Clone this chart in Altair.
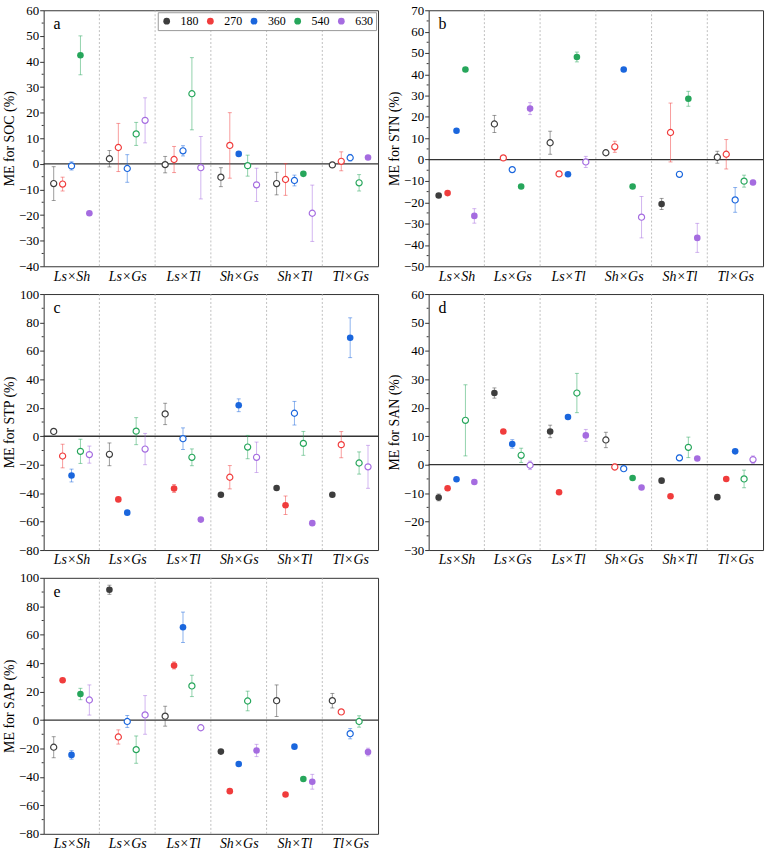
import altair as alt
import pandas as pd

categories = ["Ls×Sh", "Ls×Gs", "Ls×Tl", "Sh×Gs", "Sh×Tl", "Tl×Gs"]
series = ["180", "270", "360", "540", "630"]
colors = ["#3d3d3d", "#f03c3c", "#1a66dd", "#26a65b", "#a56ce0"]

# Panel a: SOC  (rows = categories, columns = series)
soc_val = [[-7.7, -7.9, -0.8, 42.4, -19.3], [2.0, 6.4, -1.8, 11.7, 17.0], [-0.3, 1.7, 5.1, 27.4, -1.5],
           [-5.2, 7.2, 3.9, -0.7, -8.2], [-7.7, -6.1, -6.5, -3.9, -19.3], [-0.4, 1.0, 2.4, -7.4, 2.5]]
soc_err = [[6.6, 2.7, 1.6, 7.6, 0], [3.2, 9.4, 5.4, 4.5, 8.8], [3.2, 5.1, 2.0, 14.1, 12.2],
           [3.7, 12.8, 0, 4.1, 6.5], [4.4, 6.2, 2.1, 0, 11.0], [1.0, 3.7, 1.3, 3.2, 0]]
soc_fill = [[0, 0, 0, 1, 1], [0, 0, 0, 0, 0], [0, 0, 0, 0, 0], [0, 0, 1, 0, 0], [0, 0, 0, 1, 0], [0, 0, 0, 0, 1]]

# Panel b: STN
stn_val = [[-16.8, -15.7, 13.5, 42.2, -26.4], [16.7, 0.8, -4.7, -12.6, 23.9], [7.9, -6.7, -6.9, 48.1, -1.1],
           [3.2, 6.0, 42.2, -12.6, -27.0], [-20.8, 12.7, -6.9, 28.5, -36.7], [1.1, 2.5, -18.9, -10.1, -10.7]]
stn_err = [[0, 0, 0, 0, 3.4], [4.0, 1.0, 1.0, 0, 2.8], [5.4, 1.0, 0, 2.3, 2.6],
           [1.0, 2.6, 0, 0, 9.7], [2.6, 13.8, 1.0, 3.5, 6.8], [2.8, 6.9, 5.8, 2.8, 1.0]]
stn_fill = [[1, 1, 1, 1, 1], [0, 0, 0, 1, 1], [0, 0, 1, 1, 0], [0, 0, 1, 1, 0], [1, 0, 0, 1, 1], [0, 0, 0, 0, 1]]

# Panel c: STP
stp_val = [[3.4, -13.9, -27.6, -10.6, -12.9], [-12.7, -44.4, -53.7, 3.6, -9.0], [15.7, -36.7, -1.7, -14.8, -58.6],
           [-41.1, -28.8, 21.8, -7.6, -14.8], [-36.4, -48.5, 16.2, -5.0, -61.1], [-41.1, -5.9, 69.3, -18.8, -21.5]]
stp_err = [[1.5, 8.3, 4.5, 8.5, 6.0], [8.0, 0, 0, 9.5, 11.0], [7.5, 2.8, 7.6, 5.9, 0],
           [0, 8.2, 4.5, 8.2, 10.7], [0, 6.5, 8.3, 8.4, 1.5], [0, 9.2, 14.0, 7.8, 15.1]]
stp_fill = [[0, 0, 1, 0, 0], [0, 1, 1, 0, 0], [0, 1, 0, 0, 1], [1, 0, 1, 0, 0], [1, 1, 0, 0, 1], [1, 0, 1, 0, 0]]

# Panel d: SAN
san_val = [[-11.5, -8.3, -5.1, 15.6, -6.1], [25.2, 11.7, 7.3, 3.3, -0.2], [11.7, -9.7, 16.8, 25.2, 10.3],
           [8.7, -0.8, -1.4, -4.7, -8.0], [-5.6, -11.1, 2.4, 6.1, 2.2], [-11.4, -5.0, 4.7, -5.0, 1.8]]
san_err = [[1.2, 0, 0, 12.5, 0], [1.8, 0, 1.5, 2.5, 1.5], [2.2, 0, 0, 6.9, 2.1],
           [2.7, 1.0, 0.8, 0, 0], [0, 0, 1.0, 3.6, 0], [0, 0, 0, 3.1, 1.3]]
san_fill = [[1, 1, 1, 0, 1], [1, 1, 1, 0, 0], [1, 1, 1, 0, 1], [0, 0, 0, 1, 1], [1, 1, 0, 0, 1], [1, 1, 1, 0, 0]]

# Panel e: SAP
sap_val = [[-19.1, 28.0, -24.5, 18.3, 14.1], [91.6, -11.9, -1.0, -20.8, 3.6], [2.7, 38.4, 65.2, 24.0, -5.4],
           [-22.2, -50.0, -30.9, 13.4, -21.4], [13.6, -52.4, -18.7, -41.5, -43.4], [13.6, 5.7, -9.6, -1.0, -22.5]]
sap_err = [[7.4, 0, 3.0, 4.0, 10.6], [3.2, 5.0, 4.2, 9.6, 13.6], [7.0, 2.5, 10.7, 7.5, 0],
           [0, 0, 0, 6.9, 4.3], [11.1, 0, 0, 0, 5.2], [5.1, 0, 3.6, 4.0, 2.7]]
sap_fill = [[0, 1, 1, 1, 0], [1, 0, 0, 0, 0], [0, 1, 1, 0, 0], [1, 1, 1, 0, 1], [0, 1, 1, 1, 1], [0, 0, 0, 0, 1]]

panels = [
    ("a", "ME for SOC (%)", soc_val, soc_err, soc_fill, [-40, 60], 10),
    ("b", "ME for STN (%)", stn_val, stn_err, stn_fill, [-50, 70], 10),
    ("c", "ME for STP (%)", stp_val, stp_err, stp_fill, [-80, 100], 20),
    ("d", "ME for SAN (%)", san_val, san_err, san_fill, [-30, 60], 10),
    ("e", "ME for SAP (%)", sap_val, sap_err, sap_fill, [-80, 100], 20),
]

FONT = "Liberation Serif"
OFF = 0.16
W, H = 337, 258

label_expr = "[" + ",".join("'" + c + "'" for c in categories) + "][datum.value]"


def make_panel(letter, title, vals, errs, fills, dom, step, show_legend):
    rows = []
    for ci in range(len(categories)):
        for si, s in enumerate(series):
            rows.append(dict(ci=ci, si=si, series=s, v=vals[ci][si], e=errs[ci][si], f=fills[ci][si]))
    df = pd.DataFrame(rows)

    xscale = alt.Scale(domain=[-0.5, len(categories) - 0.5], nice=False, zero=False)
    xaxis = alt.Axis(values=list(range(len(categories))), labelExpr=label_expr, title=None, grid=False,
                     ticks=False, domain=False, labelFont=FONT, labelFontSize=14, labelFontStyle="italic",
                     labelPadding=3, labelColor="black")
    yscale = alt.Scale(domain=dom, nice=False, zero=False)
    major = list(range(dom[0], dom[1] + 1, step))
    yaxis = alt.Axis(values=major, title=title, grid=False, domain=False, tickSize=4, tickColor="#333",
                     labelFont=FONT, labelFontSize=13, labelColor="black", labelPadding=1,
                     titleFont=FONT, titleFontSize=14, titleFontWeight="normal", titleColor="black",
                     titlePadding=2)

    def xe(field):
        return alt.X(field + ":Q", scale=xscale, axis=xaxis)

    def ye(field):
        return alt.Y(field + ":Q", scale=yscale, axis=yaxis)

    cscale = alt.Scale(domain=series, range=colors)

    base = alt.Chart(df).transform_calculate(
        xp="datum.ci + (datum.si - 2) * %s" % OFF,
        lo="datum.v - datum.e",
        hi="datum.v + datum.e",
    )

    layers = []
    if show_legend:
        leg = alt.Legend(orient="none", legendX=115, legendY=2, direction="horizontal", title=None,
                         strokeColor="#999", fillColor="white", padding=3, symbolType="circle",
                         symbolSize=46, symbolStrokeWidth=0, symbolOpacity=1, labelFont=FONT,
                         labelFontSize=12, labelColor="black", labelOffset=8, columnPadding=6)
        legend_layer = base.transform_filter("datum.ci < 0").mark_point(
            filled=True, size=44, opacity=1).encode(
            x=xe("xp"), y=ye("v"),
            color=alt.Color("series:N", scale=cscale, legend=leg))
        layers.append(legend_layer)

    seps = pd.DataFrame({"sep": [i + 0.5 for i in range(len(categories) - 1)]})
    sep_layer = alt.Chart(seps).mark_rule(color="#b0b0b0", strokeDash=[2, 2], strokeWidth=0.8).encode(
        x=xe("sep"))

    zero_layer = alt.Chart(pd.DataFrame({"z": [0]})).mark_rule(color="#333", strokeWidth=1.3).encode(
        y=ye("z"))

    minors = pd.DataFrame({"m": [m + step / 2 for m in major[:-1]]})
    minor_layer = alt.Chart(minors).mark_rule(color="#333", strokeWidth=1).encode(
        y=ye("m"), x=alt.value(-2), x2=alt.value(0))

    err_base = base.transform_filter("datum.e > 0")
    bars = err_base.mark_rule(strokeWidth=1, opacity=0.5).encode(
        x=xe("xp"), y=ye("lo"), y2="hi:Q",
        color=alt.Color("series:N", scale=cscale, legend=None))
    caps = err_base.transform_fold(["lo", "hi"], as_=["k", "cap"]).mark_tick(
        orient="horizontal", size=4, thickness=1, opacity=0.5).encode(
        x=xe("xp"), y=ye("cap"),
        color=alt.Color("series:N", scale=cscale, legend=None))

    filled = base.transform_filter("datum.f == 1").mark_point(
        filled=True, size=44, opacity=1).encode(
        x=xe("xp"), y=ye("v"),
        color=alt.Color("series:N", scale=cscale, legend=None))
    opened = base.transform_filter("datum.f == 0").mark_point(
        filled=False, fill="white", size=38, strokeWidth=1.2, opacity=1).encode(
        x=xe("xp"), y=ye("v"),
        color=alt.Color("series:N", scale=cscale, legend=None))

    letter_layer = alt.Chart(pd.DataFrame({"t": [letter]})).mark_text(
        align="left", baseline="alphabetic", font=FONT, fontSize=16, color="black", x=10, y=19).encode(
        text="t:N")

    layers += [sep_layer, zero_layer, minor_layer, bars, caps, filled, opened, letter_layer]
    return alt.layer(*layers).properties(width=W, height=H)


charts = [make_panel(*p, show_legend=(i == 0)) for i, p in enumerate(panels)]

chart = alt.concat(*charts, columns=2, spacing={"row": 3, "column": 7}).resolve_legend(
    color="independent").configure_view(stroke="#333", strokeWidth=1).properties(
    padding={"left": 2, "top": 0, "right": 2, "bottom": 0})

chart.save("out.html", embed_options={"renderer": "svg", "actions": False})
